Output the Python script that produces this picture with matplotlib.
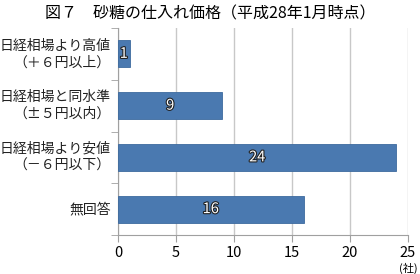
import matplotlib
matplotlib.use("Agg")
import matplotlib.pyplot as plt
import matplotlib.patheffects as pe
import numpy as np

plt.rcParams['font.family'] = ['Noto Sans CJK JP', 'DejaVu Sans']

# data
categories = ["日経相場より高値\n（＋６円以上）",
              "日経相場と同水準\n（±５円以内）",
              "日経相場より安値\n（－６円以下）",
              "無回答"]
values = [1, 9, 24, 16]
xticks = [0, 5, 10, 15, 20, 25]
title = "図７　砂糖の仕入れ価格（平成28年1月時点）"

bar_color = "#4a79b0"
grid_color = "#c8c8c8"

fig = plt.figure(figsize=(4.2, 2.74), dpi=100)
ax = fig.add_axes([118/420, 1-235/274, 290/420, 207/274])

y = np.arange(len(categories))
bars = ax.barh(y, values, height=0.52, color=bar_color, edgecolor="#3d6a9e", linewidth=0.6, zorder=3)
ax.set_ylim(len(categories)-0.5, -0.5)
ax.set_xlim(0, 25)
ax.set_xticks(xticks)
ax.set_xticklabels([str(v) for v in xticks], fontsize=10.5)
ax.set_yticks([])
ax.set_yticks(np.arange(len(categories)+1)-0.5, minor=True)
ax.tick_params(axis='y', which='minor', length=5, color="#a0a0a0", direction='out')
ax.tick_params(axis='x', length=5, color="#a0a0a0", pad=3)
ax.grid(axis='x', color=grid_color, linewidth=1, zorder=0)

for s in ['top', 'right']:
    ax.spines[s].set_visible(False)
for s in ['left', 'bottom']:
    ax.spines[s].set_color("#a0a0a0")

for yi, lab in zip(y, categories):
    ax.text(-0.025, yi, lab, transform=ax.get_yaxis_transform(), ha='right', va='center',
            fontsize=10, linespacing=1.25, color="#222222")

for yi, v in zip(y, values):
    ax.text(v/2, yi, str(v), ha='center', va='center', fontsize=10.5, color='white', zorder=4,
            path_effects=[pe.Stroke(linewidth=1.6, foreground='#222222'), pe.Normal()])

ax.text(25, -0.135, "(社)", transform=ax.get_xaxis_transform(), ha='center', va='top', fontsize=8)
fig.text(0.5, 1-14/274, title, ha='center', va='center', fontsize=11.5)

fig.savefig("out.png", dpi=100)
